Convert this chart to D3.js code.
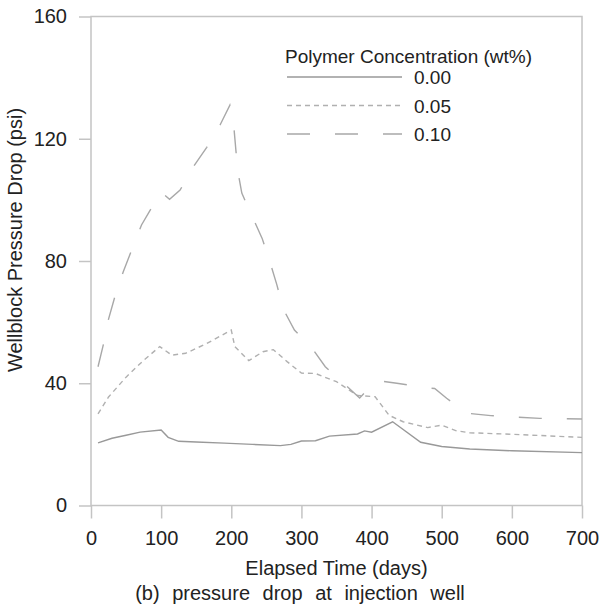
<!DOCTYPE html>
<html>
<head>
<meta charset="utf-8">
<title>Wellblock pressure drop</title>
<style>
  body { margin: 0; background: #fff; }
  svg text { font-family: "Liberation Sans", Arial, sans-serif; fill: #222; }
  .frame, .tick line, .domain { stroke: #c4c4c4; stroke-width: 1.5; }
</style>
</head>
<body>
<div id="chart"></div>
<script src="https://cdn.jsdelivr.net/npm/d3@7"></script>
<script>
// values: [days, psi]
const conc00 = [[10,20.5],[30,22],[50,23],[70,24],[100,24.7],[110,22.3],[125,21],[150,20.8],[190,20.4],[230,20],[270,19.6],[285,20],[300,21.1],[320,21.2],[340,22.7],[380,23.4],[390,24.4],[400,24],[430,27.4],[470,20.7],[500,19.3],[540,18.5],[600,17.9],[700,17.3]];
const conc05 = [[10,30],[25,35.5],[50,42],[75,47.5],[98,52],[115,49.2],[135,49.8],[165,53],[200,57.4],[205,52],[225,47.4],[245,50.3],[260,51],[280,47],[300,43.3],[320,43.2],[350,40.5],[380,36],[405,35.6],[425,29.5],[445,27.4],[480,25.5],[500,26.3],[520,24.5],[540,23.8],[600,23.3],[700,22.3]];
const conc10 = [[10,45.4],[18,53],[25,61],[34,68.3],[46,76.5],[58,83.6],[72,91.8],[84,96.5],[100,102.5],[112,100.2],[127,103.2],[146,110.9],[165,117.2],[184,124.5],[198,131],[203,125.6],[209,109.8],[215,102.2],[229,95],[244,87.4],[255,79.8],[265,72.2],[274,64.3],[290,57.4],[315,51.5],[334,45.4],[360,40],[383,35.2],[395,38],[410,40.8],[436,40],[478,38.5],[490,38.3],[507,35.1],[535,30.2],[570,29.4],[640,28.5],[700,28.3]];

const seriesNames = ["0.00", "0.05", "0.10"];
const xTicks = [0, 100, 200, 300, 400, 500, 600, 700];
const yTicks = [0, 40, 80, 120, 160];

const W = 599, H = 608;
const margin = { top: 16.5, right: 17, bottom: 102.5, left: 91 };

const x = d3.scaleLinear().domain([0, 700]).range([margin.left, W - margin.right]);
const y = d3.scaleLinear().domain([0, 160]).range([H - margin.bottom, margin.top]);

const svg = d3.select('#chart').append('svg')
  .attr('width', W).attr('height', H);

// frame
svg.append('rect').attr('class', 'frame')
  .attr('x', x(0)).attr('y', y(160))
  .attr('width', x(700) - x(0)).attr('height', y(0) - y(160))
  .attr('fill', 'none');

const xAxis = svg.append('g')
  .attr('transform', `translate(0,${y(0)})`)
  .call(d3.axisBottom(x).tickValues(xTicks).tickSize(13).tickPadding(12).tickSizeOuter(0));
const yAxis = svg.append('g')
  .attr('transform', `translate(${x(0)},0)`)
  .call(d3.axisLeft(y).tickValues(yTicks).tickSize(12).tickPadding(12).tickSizeOuter(0));
[xAxis, yAxis].forEach(a => {
  a.select('.domain').remove();
  a.selectAll('text').style('font-size', '20px').attr('fill', '#222');
});

// axis titles and caption
svg.append('text')
  .attr('x', (x(0) + x(700)) / 2).attr('y', 575)
  .attr('text-anchor', 'middle').style('font-size', '20px')
  .text('Elapsed Time (days)');
svg.append('text')
  .attr('x', 300).attr('y', 600)
  .attr('text-anchor', 'middle').style('font-size', '20px').style('word-spacing', '7px')
  .text('(b) pressure drop at injection well');
svg.append('text')
  .attr('transform', `translate(22,240) rotate(-90)`)
  .attr('text-anchor', 'middle').style('font-size', '20px')
  .text('Wellblock Pressure Drop (psi)');

const styles = [
  { dash: null, color: '#999' },
  { dash: '5,4', color: '#b0b0b0' },
  { dash: '23,25', color: '#a8a8a8' }
];

const line = d3.line().x(d => x(d[0])).y(d => y(d[1]));

[conc00, conc05, conc10].forEach((data, i) => {
  svg.append('path')
    .datum(data)
    .attr('d', line)
    .attr('fill', 'none')
    .attr('stroke', styles[i].color)
    .attr('stroke-width', 1.4)
    .attr('stroke-dasharray', styles[i].dash);
});

// legend
const lg = svg.append('g').attr('transform', 'translate(285,0)');
lg.append('text').attr('x', 0).attr('y', 63).style('font-size', '19px')
  .text('Polymer Concentration (wt%)');
seriesNames.forEach((name, i) => {
  const yy = 77 + i * 28.5;
  lg.append('line')
    .attr('x1', 2).attr('x2', 117).attr('y1', yy).attr('y2', yy)
    .attr('stroke', styles[i].color).attr('stroke-width', 1.4)
    .attr('stroke-dasharray', styles[i].dash);
  lg.append('text').attr('x', 129).attr('y', yy + 7).style('font-size', '19px')
    .text(name);
});
</script>
</body>
</html>
